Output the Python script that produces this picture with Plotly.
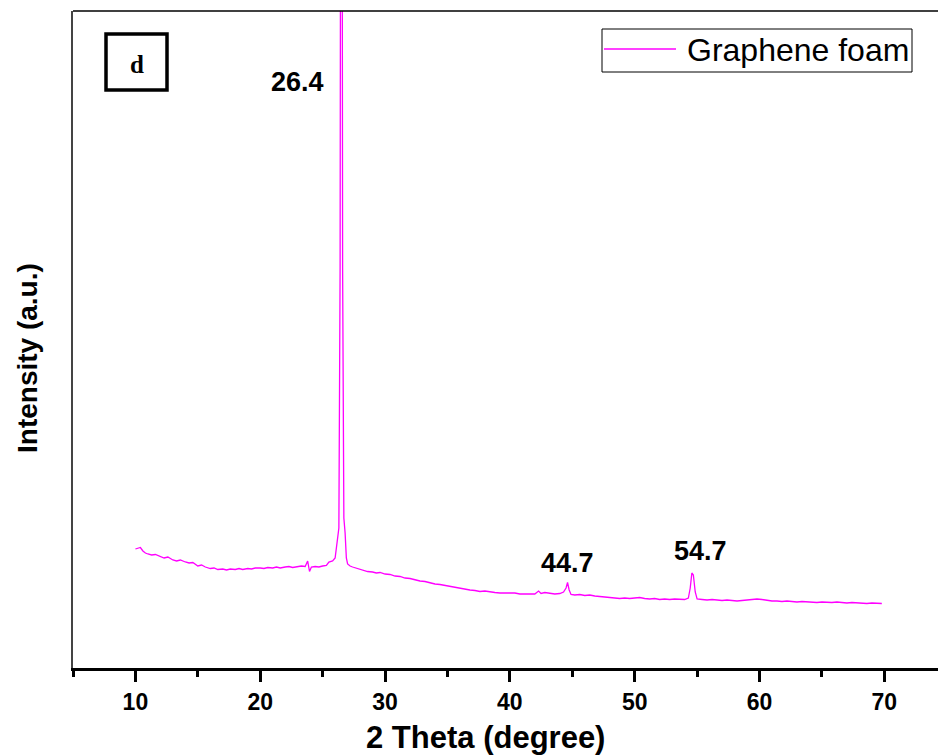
import plotly.graph_objects as go

two_theta = [
    10.0, 10.2, 10.4, 10.6, 10.8, 11.0, 11.3, 11.6, 12.0, 12.3, 12.6, 13.0, 13.3, 13.6,
    14.0, 14.3, 14.6, 15.0, 15.3, 15.6, 16.0, 16.3, 16.6, 17.0, 17.3, 17.6, 18.0, 18.3,
    18.6, 19.0, 19.3, 19.6, 20.0, 20.3, 20.6, 21.0, 21.3, 21.6, 22.0, 22.3, 22.6, 23.0,
    23.3, 23.6, 23.8, 23.95, 24.1, 24.4, 24.7, 25.0, 25.3, 25.5, 25.8, 26.0, 26.15, 26.3,
    26.4, 26.5, 26.6, 26.7, 26.8, 26.9, 27.0, 27.2, 27.4, 27.7, 28.0, 28.3, 28.6, 29.0,
    29.3, 29.6, 30.0, 30.4, 30.8, 31.2, 31.6, 32.0, 32.4, 32.8, 33.2, 33.6, 34.0, 34.4,
    34.8, 35.2, 35.6, 36.0, 36.4, 36.8, 37.2, 37.6, 38.0, 38.4, 38.8, 39.2, 39.6, 40.0,
    40.4, 40.8, 41.2, 41.6, 42.0, 42.3, 42.5, 42.8, 43.2, 43.6, 44.0, 44.3, 44.5, 44.62,
    44.75, 44.9, 45.2, 45.6, 46.0, 46.4, 46.8, 47.2, 47.6, 48.0, 48.4, 48.8, 49.2, 49.6,
    50.0, 50.4, 50.8, 51.2, 51.6, 52.0, 52.4, 52.8, 53.2, 53.6, 54.0, 54.3, 54.45, 54.58,
    54.7, 54.85, 55.0, 55.4, 55.8, 56.2, 56.6, 57.0, 57.4, 57.8, 58.2, 58.6, 59.0, 59.4,
    59.8, 60.2, 60.6, 61.0, 61.4, 61.8, 62.2, 62.6, 63.0, 63.4, 63.8, 64.2, 64.6, 65.0,
    65.4, 65.8, 66.2, 66.6, 67.0, 67.4, 67.8, 68.2, 68.6, 69.0, 69.4, 69.8,
]

intensity = [
    1190, 1200, 1205, 1170, 1150, 1140, 1130, 1135, 1115, 1100, 1110, 1080, 1070, 1080,
    1060, 1050, 1055, 1020, 1030, 1010, 995, 1000, 985, 990, 980, 990, 985, 995,
    985, 995, 990, 1000, 1000, 995, 1005, 1000, 1010, 1000, 1010, 1015, 1005, 1015,
    1020, 1015, 1070, 965, 1010, 1015, 1010, 1020, 1025, 1060, 1070, 1100, 1230, 1400,
    4000, 15000, 4000, 1500, 1350, 1100, 1040, 1020, 1010, 1000, 990, 980, 965, 960,
    950, 955, 940, 935, 920, 915, 900, 895, 880, 870, 865, 850, 840, 835,
    825, 820, 805, 800, 785, 780, 775, 765, 770, 760, 755, 750, 750, 745,
    750, 740, 740, 735, 740, 770, 745, 755, 745, 740, 745, 760, 800, 855,
    780, 735, 730, 735, 725, 730, 720, 715, 710, 705, 700, 695, 700, 695,
    700, 705, 695, 690, 695, 685, 690, 685, 690, 685, 685, 700, 800, 950,
    930, 760, 690, 685, 680, 685, 680, 675, 680, 675, 670, 675, 680, 685,
    690, 685, 675, 670, 670, 665, 670, 665, 660, 665, 660, 660, 655, 660,
    655, 655, 660, 655, 650, 655, 650, 650, 645, 650, 645, 645,
]

series_name = "Graphene foam"
peak_labels = ["26.4", "44.7", "54.7"]
peak_label_x = [23.0, 44.6, 55.3]
peak_label_y = [5860, 1050, 1170]

x_tick_vals = [10, 20, 30, 40, 50, 60, 70]

FONT = "Liberation Sans, Arial, sans-serif"
LINE_COLOR = "#FF00FF"

# pixel -> paper helpers (plot area: x 73..938, y 11..668)
def px(xp):
    return (xp - 73) / 865

def py(yp):
    return (668 - yp) / 657

fig = go.Figure()
fig.add_trace(go.Scatter(
    x=two_theta, y=intensity, mode="lines", name=series_name,
    line=dict(color=LINE_COLOR, width=1.3), showlegend=False,
))

for t, xv, yv in zip(peak_labels, peak_label_x, peak_label_y):
    fig.add_annotation(x=xv, y=yv, text=t, showarrow=False, xanchor="center", yanchor="middle",
                       font=dict(family=FONT, size=27, color="black", weight="bold"))

# panel label box "d"
fig.add_shape(type="rect", xref="paper", yref="paper",
              x0=px(106), x1=px(167), y0=py(90), y1=py(34),
              line=dict(color="black", width=3.5), fillcolor="white")
fig.add_annotation(xref="paper", yref="paper", x=px(137), y=py(64),
                   text="d", showarrow=False, xanchor="center", yanchor="middle",
                   font=dict(family="Liberation Serif, Times New Roman, serif", size=25,
                             color="black", weight="bold"))

# legend box
fig.add_shape(type="rect", xref="paper", yref="paper",
              x0=px(602), x1=px(912), y0=py(72), y1=py(29),
              line=dict(color="black", width=1), fillcolor="white")
fig.add_shape(type="line", xref="paper", yref="paper",
              x0=px(604), x1=px(676), y0=py(49), y1=py(49),
              line=dict(color=LINE_COLOR, width=1.3))
fig.add_annotation(xref="paper", yref="paper", x=px(685), y=py(50),
                   text=series_name, showarrow=False, xanchor="left", yanchor="middle",
                   font=dict(family=FONT, size=32, color="black"))

# top frame line
fig.add_shape(type="line", xref="paper", yref="paper", x0=0, x1=1, y0=1, y1=1,
              line=dict(color="black", width=1.5))

# axis titles
fig.add_annotation(xref="paper", yref="paper", x=px(485), y=py(738),
                   text="2 Theta (degree)", showarrow=False, xanchor="center", yanchor="middle",
                   font=dict(family=FONT, size=31, color="black", weight="bold"))
fig.add_annotation(xref="paper", yref="paper", x=px(27), y=py(358),
                   text="Intensity (a.u.)", showarrow=False, textangle=-90,
                   xanchor="center", yanchor="middle",
                   font=dict(family=FONT, size=28, color="black", weight="bold"))

fig.update_layout(
    width=938, height=755,
    margin=dict(l=73, r=0, t=11, b=87),
    paper_bgcolor="white", plot_bgcolor="white",
    showlegend=False,
    xaxis=dict(
        range=[5, 74.3], tickvals=x_tick_vals, ticktext=[str(v) for v in x_tick_vals],
        ticks="outside", ticklen=11, tickwidth=3, tickcolor="black",
        showline=True, linewidth=3, linecolor="black", showgrid=False, zeroline=False,
        tickfont=dict(family=FONT, size=23, color="black", weight="bold"),
        minor=dict(tickvals=[5, 15, 25, 35, 45, 55, 65], ticks="outside", ticklen=6,
                   tickwidth=3, tickcolor="black", showgrid=False),
        automargin=False,
    ),
    yaxis=dict(
        range=[0, 6570], showticklabels=False, ticks="", showgrid=False, zeroline=False,
        showline=True, linewidth=1.5, linecolor="#444444",
        automargin=False,
    ),
)

fig.write_html("out.html")
